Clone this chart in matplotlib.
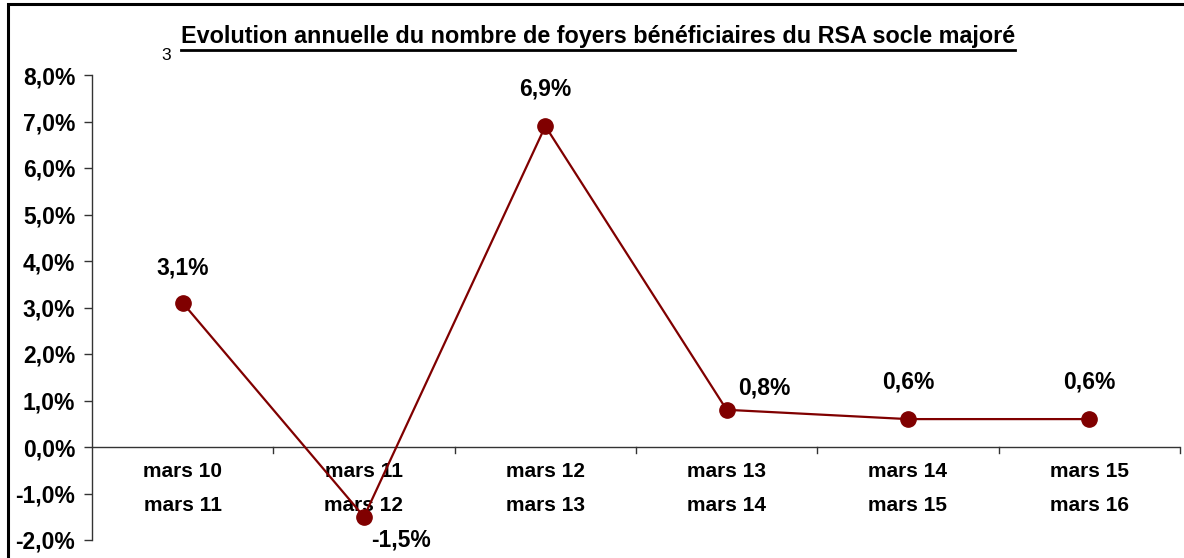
import matplotlib
matplotlib.use("Agg")
import matplotlib.pyplot as plt
from matplotlib.lines import Line2D
from matplotlib.patches import Rectangle

categories = ["mars 10\nmars 11", "mars 11\nmars 12", "mars 12\nmars 13",
              "mars 13\nmars 14", "mars 14\nmars 15", "mars 15\nmars 16"]
values = [3.1, -1.5, 6.9, 0.8, 0.6, 0.6]
value_labels = ["3,1%", "-1,5%", "6,9%", "0,8%", "0,6%", "0,6%"]
yticks = [-2, -1, 0, 1, 2, 3, 4, 5, 6, 7, 8]
ytick_labels = ["-2,0%", "-1,0%", "0,0%", "1,0%", "2,0%", "3,0%", "4,0%",
                "5,0%", "6,0%", "7,0%", "8,0%"]
title = "Evolution annuelle du nombre de foyers bénéficiaires du RSA socle majoré"

plt.rcParams['font.family'] = ['Liberation Sans', 'DejaVu Sans']

W, H = 1184, 558
fig = plt.figure(figsize=(W / 100, H / 100), dpi=100)
fig.patch.set_facecolor("white")

# outer frame
fig.add_artist(Rectangle((8 / W, -0.05), 1.2, 1 - 4 / H + 0.05, transform=fig.transFigure,
                         fill=False, edgecolor="black", linewidth=2.2))

ax = fig.add_axes([92 / W, 1 - 540 / H, (1180 - 92) / W, (540 - 75) / H])
ax.set_facecolor("none")

x = [i + 0.5 for i in range(len(values))]
color = "#800000"
ax.plot(x, values, color=color, linewidth=1.6, marker="o", markersize=11,
        markerfacecolor=color, markeredgecolor=color, zorder=3, clip_on=False)

ax.set_xlim(0, len(values))
ax.set_ylim(-2, 8)
ax.set_yticks(yticks)
ax.set_yticklabels(ytick_labels, fontsize=16.5, fontweight="bold")
ax.tick_params(axis="y", direction="out", length=6, width=1, colors="#333333",
               labelcolor="black", pad=6)

for s in ["top", "right", "bottom"]:
    ax.spines[s].set_visible(False)
ax.spines["left"].set_color("#333333")
ax.spines["left"].set_linewidth(1)

# x axis line at zero with category boundary ticks
ax.axhline(0, color="#333333", linewidth=1, zorder=2)
ax.set_xticks([])
for b in range(1, len(values) + 1):
    ax.plot([b, b], [0, -0.13], color="#333333", linewidth=1, clip_on=False, zorder=2)

for xi, cat in zip(x, categories):
    ax.text(xi, -0.33, cat, ha="center", va="top", fontsize=15, fontweight="bold",
            linespacing=2.0, zorder=1)

# data labels
offsets = [(0, 25, "center"), (27, -17, "center"), (0, 27, "center"),
           (27, 16, "center"), (0, 27, "center"), (0, 27, "center")]
for xi, v, lab, (dx, dy, ha) in zip(x, values, value_labels, offsets):
    ax.annotate(lab, (xi, v), xytext=(dx, dy), textcoords="offset points",
                ha=ha, va="center", fontsize=16.5, fontweight="bold", zorder=4)

# title with underline
t = fig.text(598 / W, 1 - 37 / H, title, ha="center", va="center",
             fontsize=16.8, fontweight="bold")
fig.text(166 / W, 1 - 55 / H, "3", ha="center", va="center", fontsize=12.5)

fig.canvas.draw()
bb = t.get_window_extent(renderer=fig.canvas.get_renderer())
y_line = (bb.y0 - 1) / H
fig.add_artist(Line2D([bb.x0 / W, bb.x1 / W], [y_line, y_line], transform=fig.transFigure,
                      color="black", linewidth=2))

fig.savefig("out.png", dpi=100, facecolor="white")
